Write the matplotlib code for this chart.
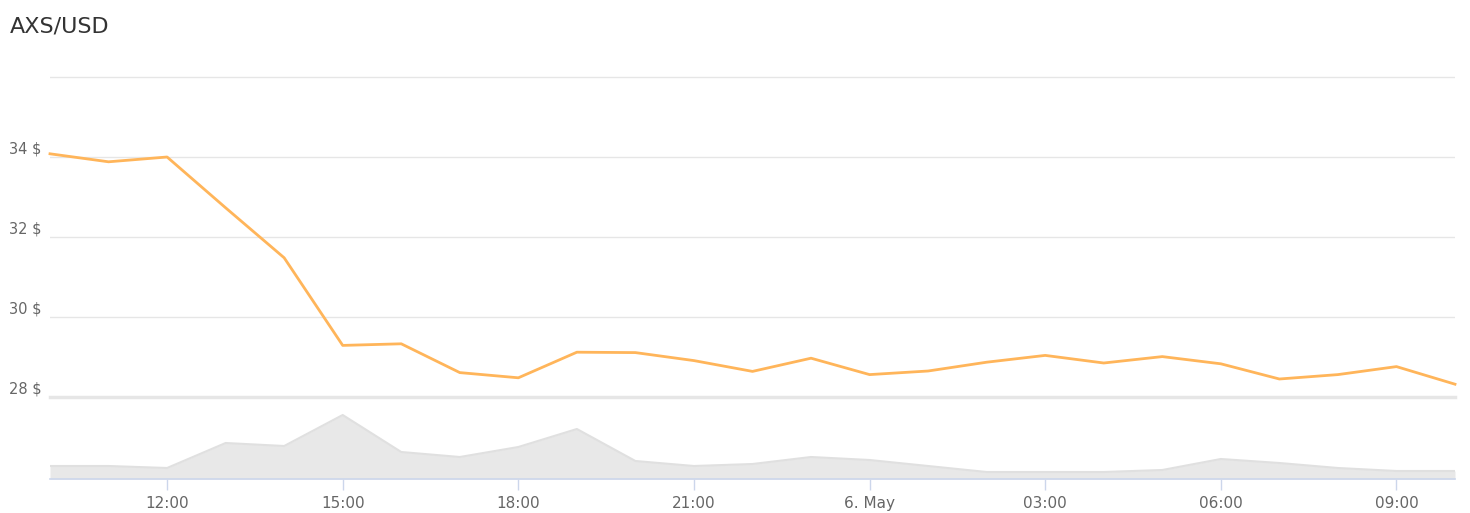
import matplotlib
matplotlib.use("Agg")
import matplotlib.pyplot as plt
import numpy as np

# Hourly data, 10:00 (5 May) to 10:00 (6 May)
hours = list(range(25))
price = [34.08, 33.88, 34.00, 32.73, 31.48, 29.29, 29.33, 28.61, 28.48, 29.12,
         29.11, 28.91, 28.64, 28.97, 28.56, 28.65, 28.87, 29.04, 28.85, 29.01,
         28.83, 28.45, 28.56, 28.76, 28.32]
volume = [13, 13, 11, 36, 33, 64, 27, 22, 32, 50, 18, 13, 15, 22, 19, 13,
          7, 7, 7, 9, 20, 16, 11, 8, 8]
tick_hours = [2, 5, 8, 11, 14, 17, 20, 23]
tick_labels = ["12:00", "15:00", "18:00", "21:00", "6. May", "03:00", "06:00", "09:00"]
price_ticks = [28, 30, 32, 34, 36]
price_labels = ["28 $", "30 $", "32 $", "34 $", ""]

W, H = 1470, 513
fig = plt.figure(figsize=(W / 100, H / 100), dpi=100)
fig.patch.set_facecolor("white")

left, right = 50 / W, 1455 / W
ax = fig.add_axes([left, 1 - 397 / H, right - left, (397 - 75) / H])
axv = fig.add_axes([left, 1 - 479 / H, right - left, (479 - 397) / H])

# Price panel
ax.plot(hours, price, color="#ffb55a", lw=2.0, solid_joinstyle="round", zorder=3, clip_on=False)
ax.set_xlim(0, 24)
ax.set_ylim(28, 36.05)
ax.set_yticks(price_ticks)
ax.set_yticklabels(price_labels)
ax.grid(axis="y", color="#e6e6e6", lw=1)
ax.set_axisbelow(True)
for s in ax.spines.values():
    s.set_visible(False)
ax.tick_params(axis="y", length=0, pad=6, labelsize=10.5, labelcolor="#666666")
ax.tick_params(axis="x", length=0, labelbottom=False)
for lab in ax.get_yticklabels():
    lab.set_verticalalignment("bottom")

# Volume panel
axv.fill_between(hours, volume, 0, color="#e8e8e8", lw=0, zorder=2)
axv.plot(hours, volume, color="#e0e0e0", lw=1.5, zorder=3)
axv.set_xlim(0, 24)
axv.set_ylim(0, 82)
axv.set_yticks([])
for s in ["left", "right"]:
    axv.spines[s].set_visible(False)
axv.spines["top"].set_color("#e6e6e6")
axv.spines["top"].set_linewidth(2.5)
axv.spines["bottom"].set_color("#ccd6eb")
axv.spines["bottom"].set_linewidth(1.2)
axv.spines["bottom"].set_zorder(5)
axv.set_xticks(tick_hours)
axv.set_xticklabels(tick_labels)
axv.tick_params(axis="x", length=8, width=1, color="#ccd6eb", labelsize=11,
                labelcolor="#666666", pad=4)

fig.text(10 / W, 1 - 27 / H, "AXS/USD", fontsize=16, color="#333333",
         va="center", ha="left")

fig.savefig("out.png", dpi=100, facecolor="white")
